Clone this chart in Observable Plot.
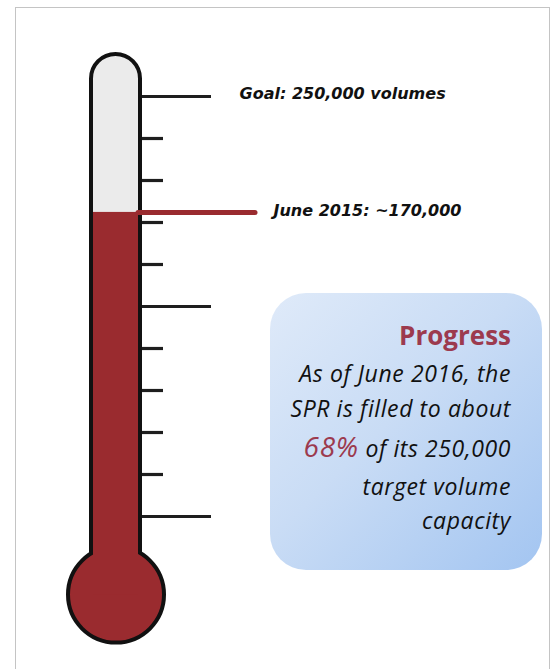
<!DOCTYPE html>
<html>
<head>
<meta charset="utf-8">
<script src="https://cdn.jsdelivr.net/npm/d3@7"></script>
<script src="https://cdn.jsdelivr.net/npm/@observablehq/plot@0.6"></script>
<style>
  html, body { margin: 0; padding: 0; background: #fff; }
  #wrap { position: relative; width: 556px; height: 669px; overflow: hidden; }
  #border { position: absolute; left: 15px; top: 7px; width: 535px; height: 700px; border: 1px solid #c4c4c4; box-sizing: border-box; }
  #chart { position: absolute; left: 0; top: 0; }
  #box {
    position: absolute; left: 270px; top: 293px; width: 272px; height: 277px;
    border-radius: 36px;
    background: linear-gradient(135deg, #dfeaf9 0%, #c9dcf5 45%, #a3c5f1 100%);
  }
  .ln { position: absolute; right: 31px; white-space: nowrap; font-family: "Open Sans", Lato, sans-serif; font-style: italic; color: #111; font-size: 23px; line-height: 23px; letter-spacing: 0.6px; }
  .ttl { position: absolute; right: 31px; white-space: nowrap; font-family: "Open Sans", Lato, sans-serif; font-weight: bold; color: #9c3a4e; font-size: 26px; line-height: 26px; }
  .pct { color: #9c3a4e; font-size: 28px; line-height: 0; letter-spacing: 0.8px; }
</style>
</head>
<body>
<div id="wrap">
  <div id="border"></div>
  <div id="chart"></div>
  <div id="box"></div>
</div>
<script>
// ---- data ----
const goalVolume = 250000;                 // goal
const tickVolumes = d3.range(0, 250001, 25000); // tick marks on the tube
const majorTicks = [0, 125000, 250000];     // long ticks
const levelVolume = 181000;                 // drawn fill level
const goalLabel = "Goal: 250,000 volumes";
const levelLabel = "June 2015: ~170,000";
const progressTitle = "Progress";
const progressLines = [
  ["As of June 2016, the"],
  ["SPR is filled to about"],
  ["68%", " of its 250,000"],
  ["target volume"],
  ["capacity"]
];

// ---- layout (scale units) ----
const tubeTop = 275000, tubeBottom = -38000, bulbCenter = -46500;
const red = "#9a2b2f";

const chart = Plot.plot({
  width: 556,
  height: 669,
  margin: 0,
  x: {domain: [0, 556], range: [0, 556], axis: null},
  y: {domain: [0, 250000], range: [516, 96], axis: null},
  marks: [
    // ticks
    Plot.ruleY(tickVolumes, {
      x1: 141, x2: d => majorTicks.includes(d) ? 211 : 163,
      stroke: "#1e1e1e", strokeWidth: 3.2
    }),
    // tube
    Plot.rect([0], {x1: 91, x2: 140, y1: tubeBottom, y2: tubeTop, rx: 24.5,
      fill: "#ebebeb", stroke: "#111", strokeWidth: 4}),
    // bulb
    Plot.dot([0], {x: 115.5, y: bulbCenter, r: 48, fill: red, stroke: "#111", strokeWidth: 4}),
    // mercury
    Plot.rect([levelVolume], {x1: 93, x2: 138, y1: bulbCenter, y2: d => d, fill: red}),
    // level marker line
    Plot.ruleY([levelVolume], {x1: 138, x2: 255, stroke: red, strokeWidth: 5, strokeLinecap: "round"}),
    // labels
    Plot.text([goalVolume], {x: 239, y: d => d, dy: -3, text: () => goalLabel, textAnchor: "start",
      fontFamily: "DejaVu Sans", fontWeight: "bold", fontStyle: "italic", fontSize: 16, fill: "#111"}),
    Plot.text([levelVolume], {x: 273, y: d => d, dy: -2, text: () => levelLabel, textAnchor: "start",
      fontFamily: "DejaVu Sans", fontWeight: "bold", fontStyle: "italic", fontSize: 16, fill: "#111"})
  ]
});
document.getElementById("chart").appendChild(chart);

// progress box text
const box = document.getElementById("box");
const t = document.createElement("div");
t.className = "ttl";
t.style.top = (345 - 293 - 23) + "px";
t.textContent = progressTitle;
box.appendChild(t);
const baselines = [382, 417, 457, 495, 529];
progressLines.forEach((parts, i) => {
  const d = document.createElement("div");
  d.className = "ln";
  d.style.top = (baselines[i] - 293 - 20.4) + "px";
  parts.forEach(p => {
    const s = document.createElement("span");
    s.textContent = p;
    if (p === "68%") s.className = "pct";
    d.appendChild(s);
  });
  box.appendChild(d);
});
</script>
</body>
</html>
